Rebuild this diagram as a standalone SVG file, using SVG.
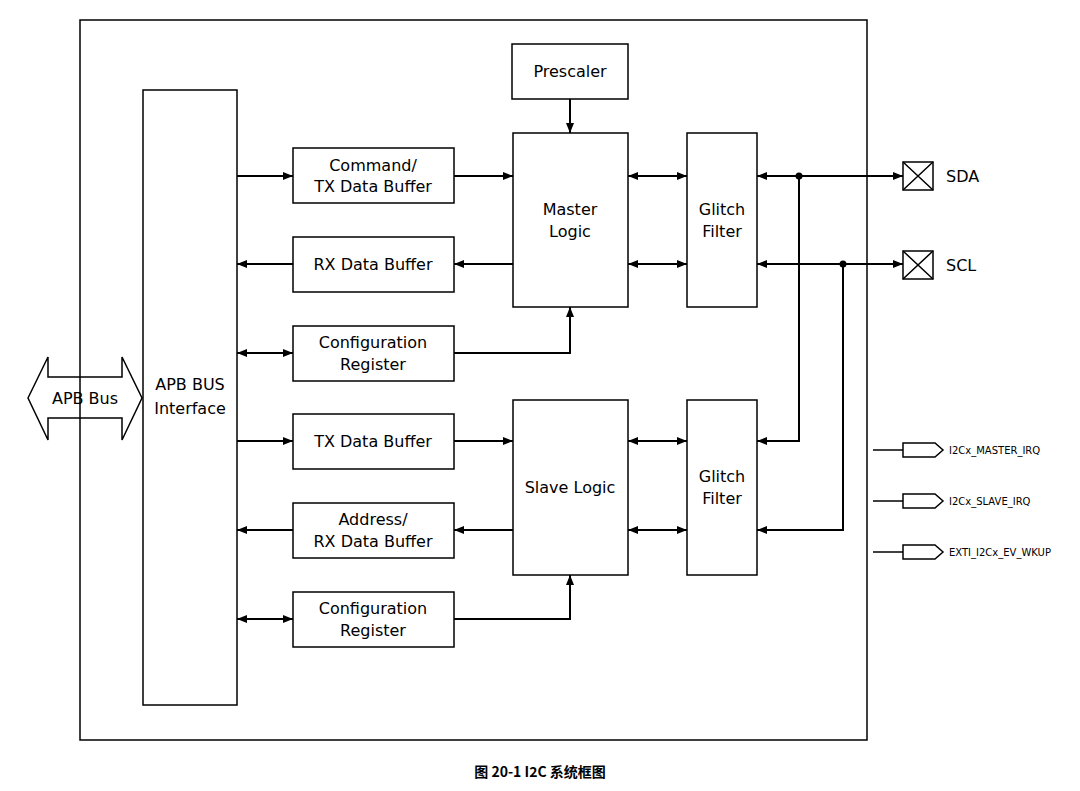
<svg xmlns="http://www.w3.org/2000/svg" width="1080" height="791" viewBox="0 0 1080 791">
<defs>
<marker id="a" viewBox="0 0 10 10" refX="10" refY="5" markerWidth="10" markerHeight="10" markerUnits="userSpaceOnUse" orient="auto-start-reverse"><path d="M0,1 L10,5 L0,9 Z" fill="#000"/></marker>
</defs>
<style>
rect,.s{fill:#fff;stroke:#000;stroke-width:1.5}
.n{fill:none;stroke:#000;stroke-width:1.5}
text{font-family:"DejaVu Sans",sans-serif;font-size:16px;fill:#000;text-anchor:middle}
.c line,.c path{fill:none;stroke:#000;stroke-width:2}
.irq{font-size:10px;text-anchor:start}
</style>
<rect x="0" y="0" width="1080" height="791" style="stroke:none"/>
<rect x="80" y="20" width="787" height="720" style="fill:none"/>
<g id="apbbus"><path class="n" d="M28,398 L48,357 L48,377 L122,377 L122,357 L142,398 L122,440 L122,418 L48,418 L48,440 Z" style="fill:none"/><text x="85" y="404">APB Bus</text></g>
<g id="apbif"><rect x="143" y="90" width="94" height="615"/><text x="190" y="390">APB BUS</text><text x="190" y="414">Interface</text></g>
<g id="prescaler"><rect x="512" y="44" width="116" height="55"/><text x="570" y="77">Prescaler</text></g>
<g id="master"><rect x="513" y="133" width="115" height="174"/><text x="570" y="215">Master</text><text x="570" y="237">Logic</text></g>
<g id="gf1"><rect x="687" y="133" width="70" height="174"/><text x="722" y="215">Glitch</text><text x="722" y="237">Filter</text></g>
<g id="cmd"><rect x="293" y="148" width="161" height="55"/><text x="373" y="171">Command/</text><text x="373" y="192">TX Data Buffer</text></g>
<g id="rx"><rect x="293" y="237" width="161" height="55"/><text x="373" y="270">RX Data Buffer</text></g>
<g id="cfg1"><rect x="293" y="326" width="161" height="55"/><text x="373" y="348">Configuration</text><text x="373" y="370">Register</text></g>
<g id="tx"><rect x="293" y="414" width="161" height="55"/><text x="373" y="447">TX Data Buffer</text></g>
<g id="addr"><rect x="293" y="503" width="161" height="55"/><text x="373" y="525">Address/</text><text x="373" y="547">RX Data Buffer</text></g>
<g id="cfg2"><rect x="293" y="592" width="161" height="55"/><text x="373" y="614">Configuration</text><text x="373" y="636">Register</text></g>
<g id="slave"><rect x="513" y="400" width="115" height="175"/><text x="570" y="493">Slave Logic</text></g>
<g id="gf2"><rect x="687" y="400" width="70" height="175"/><text x="722" y="482">Glitch</text><text x="722" y="504">Filter</text></g>
<g id="sda"><rect x="903" y="162" width="30" height="28"/><path class="n" d="M903,162 L933,190 M933,162 L903,190"/><text x="946" y="182" style="text-anchor:start">SDA</text></g>
<g id="scl"><rect x="903" y="251" width="30" height="28"/><path class="n" d="M903,251 L933,279 M933,251 L903,279"/><text x="946" y="271" style="text-anchor:start">SCL</text></g>
<g id="irq1"><path class="s" d="M903,443 L935,443 L943,450 L935,457 L903,457 Z"/><text class="irq" x="949" y="454">I2Cx_MASTER_IRQ</text></g>
<g id="irq2"><path class="s" d="M903,494 L935,494 L943,501 L935,508 L903,508 Z"/><text class="irq" x="949" y="505">I2Cx_SLAVE_IRQ</text></g>
<g id="irq3"><path class="s" d="M903,545 L935,545 L943,552 L935,559 L903,559 Z"/><text class="irq" x="949" y="556">EXTI_I2Cx_EV_WKUP</text></g>
<g class="c" id="connectors">
<line x1="237" y1="176" x2="293" y2="176" marker-end="url(#a)"/>
<line x1="454" y1="176" x2="513" y2="176" marker-end="url(#a)"/>
<line x1="513" y1="264" x2="454" y2="264" marker-end="url(#a)"/>
<line x1="293" y1="264" x2="237" y2="264" marker-end="url(#a)"/>
<line x1="237" y1="353" x2="293" y2="353" marker-start="url(#a)" marker-end="url(#a)"/>
<path d="M454,353 H570 V307" marker-end="url(#a)"/>
<line x1="570" y1="99" x2="570" y2="133" marker-end="url(#a)"/>
<line x1="628" y1="176" x2="687" y2="176" marker-start="url(#a)" marker-end="url(#a)"/>
<line x1="628" y1="264" x2="687" y2="264" marker-start="url(#a)" marker-end="url(#a)"/>
<line x1="757" y1="176" x2="903" y2="176" marker-start="url(#a)" marker-end="url(#a)"/>
<line x1="757" y1="264" x2="903" y2="264" marker-start="url(#a)" marker-end="url(#a)"/>
<path d="M799,176 V441 H757" marker-end="url(#a)"/>
<path d="M843,264 V530 H757" marker-end="url(#a)"/>
<line x1="237" y1="441" x2="293" y2="441" marker-end="url(#a)"/>
<line x1="454" y1="441" x2="513" y2="441" marker-end="url(#a)"/>
<line x1="513" y1="530" x2="454" y2="530" marker-end="url(#a)"/>
<line x1="293" y1="530" x2="237" y2="530" marker-end="url(#a)"/>
<line x1="237" y1="619" x2="293" y2="619" marker-start="url(#a)" marker-end="url(#a)"/>
<path d="M454,619 H570 V575" marker-end="url(#a)"/>
<line x1="628" y1="441" x2="687" y2="441" marker-start="url(#a)" marker-end="url(#a)"/>
<line x1="628" y1="530" x2="687" y2="530" marker-start="url(#a)" marker-end="url(#a)"/>
<line x1="873" y1="450" x2="903" y2="450" style="stroke-width:1.5"/>
<line x1="873" y1="501" x2="903" y2="501" style="stroke-width:1.5"/>
<line x1="873" y1="552" x2="903" y2="552" style="stroke-width:1.5"/>
<circle cx="799" cy="176" r="3.5" fill="#000"/>
<circle cx="843" cy="264" r="3.5" fill="#000"/>
</g>
<text x="540" y="777" style="font-family:'Noto Sans CJK SC','DejaVu Sans',sans-serif;font-weight:bold;font-size:14px">图 20-1 I2C 系统框图</text>
</svg>
